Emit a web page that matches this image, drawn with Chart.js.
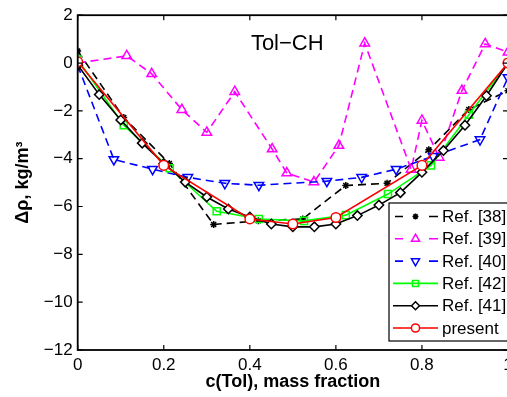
<!DOCTYPE html>
<html>
<head>
<meta charset="utf-8">
<script src="https://cdn.jsdelivr.net/npm/chart.js@4.4.1/dist/chart.umd.min.js"></script>
<style>
	html, body { margin: 0; padding: 0; background: #fff; overflow: hidden; }
	#moldura { width: 507px; height: 397px; overflow: hidden; position: relative; }
	#grafico { display: block; }
</style>
</head>
<body>
<div id="moldura"><canvas id="grafico" width="540" height="397"></canvas></div>
<script>
	// mass fraction c(Tol) and density deviation, one pair of arrays per reference
	var cRef38 = [0, 0.107, 0.213, 0.316, 0.42, 0.523, 0.623, 0.719, 0.816, 0.909, 1.0];
	var dRef38 = [0.5, -2.28, -4.2, -6.75, -6.6, -6.52, -5.12, -5.03, -3.63, -1.94, -1.16];

	var cRef39 = [0, 0.114, 0.172, 0.242, 0.3, 0.365, 0.452, 0.486, 0.549, 0.607, 0.667, 0.775, 0.8, 0.84, 0.893, 0.947, 1.0];
	var dRef39 = [0, 0.3, -0.45, -1.95, -2.9, -1.2, -3.6, -4.6, -4.98, -3.45, 0.83, -4.45, -2.4, -3.95, -1.15, 0.8, 0.45];

	var cRef40 = [0, 0.084, 0.174, 0.256, 0.342, 0.421, 0.579, 0.66, 0.74, 0.826, 0.935, 1.0];
	var dRef40 = [-0.1, -4.03, -4.44, -4.78, -5.03, -5.11, -4.94, -4.78, -4.44, -3.9, -3.2, -0.6];

	var cRef42 = [0, 0.107, 0.214, 0.323, 0.421, 0.526, 0.623, 0.721, 0.821, 0.909, 1.0];
	var dRef42 = [0.15, -2.6, -4.4, -6.2, -6.52, -6.6, -6.36, -5.48, -4.28, -2.16, 0];

	var cRef41 = [0, 0.05, 0.1, 0.15, 0.2, 0.25, 0.3, 0.35, 0.4, 0.45, 0.5, 0.55, 0.6, 0.65, 0.7, 0.75, 0.8, 0.85, 0.9, 0.95, 1.0];
	var dRef41 = [-0.08, -1.32, -2.38, -3.35, -4.2, -4.98, -5.6, -6.1, -6.44, -6.73, -6.85, -6.85, -6.73, -6.38, -5.94, -5.42, -4.57, -3.66, -2.6, -1.37, 0];

	var cPresente = [0, 0.2, 0.4, 0.5, 0.6, 0.8, 1.0];
	var dPresente = [0.05, -4.28, -6.52, -6.73, -6.46, -4.28, 0];

	var xTicks = [0, 0.2, 0.4, 0.6, 0.8, 1];
	var yTicks = [2, 0, -2, -4, -6, -8, -10, -12];

	var fonte = '"Liberation Sans", Arial, Helvetica, sans-serif';

	function pares(cs, ds) {
		return cs.map(function(c, i) { return { x: c, y: ds[i] }; });
	}

	function serie(rotulo, cs, ds, cor, tracejado, estilo, raio, fundo, rotacao, ordem) {
		return {
			label: rotulo,
			data: pares(cs, ds),
			borderColor: cor,
			borderWidth: 1.6,
			borderDash: tracejado ? [8, 5] : [],
			tension: 0,
			fill: false,
			pointStyle: estilo,
			pointRadius: raio,
			pointRotation: rotacao,
			pointBorderColor: cor,
			pointBackgroundColor: fundo,
			pointBorderWidth: 1.5,
			order: ordem
		};
	}

	var series = [
		serie('Ref. [38]', cRef38, dRef38, '#000000', true, 'star', 3.5, '#000000', 0, 5),
		serie('Ref. [39]', cRef39, dRef39, '#ff00ff', true, 'triangle', 5.5, 'rgba(0,0,0,0)', 0, 4),
		serie('Ref. [40]', cRef40, dRef40, '#0000ff', true, 'triangle', 5.5, 'rgba(0,0,0,0)', 180, 3),
		serie('Ref. [42]', cRef42, dRef42, '#00ff00', false, 'rect', 5, 'rgba(0,0,0,0)', 0, 2),
		serie('Ref. [41]', cRef41, dRef41, '#000000', false, 'rectRot', 4.7, '#ffffff', 0, 1),
		serie('present', cPresente, dPresente, '#ff0000', false, 'circle', 4.8, '#ffffff', 0, 0)
	];

	// box, inward ticks on all four sides and the Tol-CH label
	var eixosPlugin = {
		id: 'eixos',
		afterDatasetsDraw: function(chart) {
			var ctx = chart.ctx, a = chart.chartArea;
			var sx = chart.scales.x, sy = chart.scales.y;
			ctx.save();
			ctx.setLineDash([]);
			ctx.strokeStyle = '#000';
			ctx.lineWidth = 1.2;
			ctx.beginPath();
			xTicks.forEach(function(v) {
				var px = sx.getPixelForValue(v);
				ctx.moveTo(px, a.bottom); ctx.lineTo(px, a.bottom - 5);
				ctx.moveTo(px, a.top); ctx.lineTo(px, a.top + 5);
			});
			yTicks.forEach(function(v) {
				var py = sy.getPixelForValue(v);
				ctx.moveTo(a.left, py); ctx.lineTo(a.left + 5, py);
				ctx.moveTo(a.right, py); ctx.lineTo(a.right - 5, py);
			});
			ctx.stroke();
			ctx.lineWidth = 1.8;
			ctx.strokeRect(a.left, a.top, a.right - a.left, a.bottom - a.top);

			ctx.fillStyle = '#000';
			ctx.font = '22px ' + fonte;
			ctx.textAlign = 'center';
			ctx.textBaseline = 'alphabetic';
			ctx.fillText('Tol\u2212CH', sx.getPixelForValue(0.487), sy.getPixelForValue(0.55));
			ctx.restore();
		}
	};

	// legend box in the lower right corner, like the MATLAB one
	var legendaPlugin = {
		id: 'legenda',
		afterDraw: function(chart) {
			var ctx = chart.ctx, a = chart.chartArea;
			var esquerda = a.right - 119, topo = a.bottom - 147, altura = 138;
			ctx.save();
			ctx.fillStyle = '#fff';
			ctx.fillRect(esquerda, topo, 200, altura);
			ctx.setLineDash([]);
			ctx.strokeStyle = '#000';
			ctx.lineWidth = 1.2;
			ctx.strokeRect(esquerda, topo, 200, altura);

			series.forEach(function(ds, i) {
				var y = topo + 13.5 + i * 22.3;
				var x0 = esquerda + 4, x1 = esquerda + 49, xm = (x0 + x1) / 2;
				ctx.strokeStyle = ds.borderColor;
				ctx.lineWidth = 1.6;
				ctx.setLineDash([]);
				ctx.beginPath();
				if (ds.borderDash.length) {
					ctx.moveTo(x0 + 2, y); ctx.lineTo(x0 + 10, y);
					ctx.moveTo(x1 - 9, y); ctx.lineTo(x1, y);
				} else {
					ctx.moveTo(x0, y); ctx.lineTo(x1, y);
				}
				ctx.stroke();

				ctx.fillStyle = ds.pointBackgroundColor;
				ctx.lineWidth = ds.pointBorderWidth;
				Chart.helpers.drawPoint(ctx, {
					pointStyle: ds.pointStyle,
					rotation: ds.pointRotation,
					radius: ds.pointRadius * 0.85,
					borderWidth: ds.pointBorderWidth
				}, xm, y);

				ctx.fillStyle = '#000';
				ctx.font = '17px ' + fonte;
				ctx.textAlign = 'left';
				ctx.textBaseline = 'middle';
				ctx.fillText(ds.label, x1 + 4, y + 1);
			});
			ctx.restore();
		}
	};

	function menos(v) {
		return String(v).replace('-', '\u2212');
	}

	new Chart(document.getElementById('grafico').getContext('2d'), {
		type: 'line',
		data: { datasets: series },
		plugins: [eixosPlugin, legendaPlugin],
		options: {
			responsive: false,
			animation: false,
			events: [],
			devicePixelRatio: 1,
			layout: { padding: { top: 11, right: 32, left: 0, bottom: 0 } },
			plugins: {
				legend: { display: false },
				tooltip: { enabled: false },
				title: { display: false }
			},
			scales: {
				x: {
					type: 'linear',
					min: 0,
					max: 1,
					afterFit: function(scale) { scale.height = 47; },
					afterBuildTicks: function(scale) {
						scale.ticks = xTicks.map(function(v) { return { value: v }; });
					},
					grid: { display: false, drawTicks: false },
					border: { display: false },
					ticks: {
						color: '#000',
						font: { family: fonte, size: 17 },
						padding: 5,
						maxRotation: 0,
						autoSkip: false,
						callback: function(v) { return String(+v.toFixed(1)); }
					},
					title: {
						display: true,
						text: 'c(Tol), mass fraction',
						color: '#000',
						font: { family: fonte, size: 18, weight: 'bold' },
						padding: { top: 0, bottom: 4 }
					}
				},
				y: {
					type: 'linear',
					min: -12,
					max: 2,
					afterFit: function(scale) { scale.width = 77.7; },
					afterBuildTicks: function(scale) {
						scale.ticks = yTicks.map(function(v) { return { value: v }; });
					},
					grid: { display: false, drawTicks: false },
					border: { display: false },
					ticks: {
						color: '#000',
						font: { family: fonte, size: 17 },
						padding: 5,
						autoSkip: false,
						callback: function(v) { return menos(v); }
					},
					title: {
						display: true,
						text: '\u0394\u03c1, kg/m\u00b3',
						color: '#000',
						font: { family: fonte, size: 18, weight: 'bold' },
						padding: { top: 12, bottom: 0 }
					}
				}
			}
		}
	});
</script>
</body>
</html>
